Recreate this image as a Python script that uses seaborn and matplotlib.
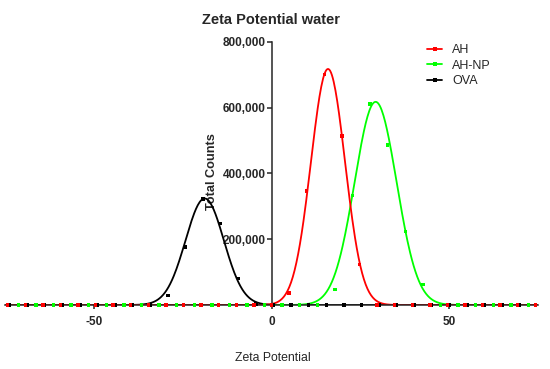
# Zeta potential distributions with Gaussian fits

import numpy as np
import pandas as pd
import seaborn as sns
import matplotlib.pyplot as plt
from matplotlib.lines import Line2D
from matplotlib.ticker import FuncFormatter

# Data

series_names = ["AH", "AH-NP", "OVA"]
series_colors = ["#ff0000", "#00ff00", "#000000"]

zeta_ah = [-74.25, -69.3, -64.35, -59.4, -54.45, -49.5, -44.55, -39.6, -34.65, -29.7,
           -24.75, -19.8, -14.85, -9.9, -4.95, 0.0, 4.95, 9.9, 14.85, 19.8,
           24.75, 29.7, 34.65, 39.6, 44.55, 49.5, 54.45, 59.4, 64.35, 69.3, 74.25]
counts_ah = [0, 0, 0, 0, 0, 0, 0, 0, 0, 0,
             0, 0, 0, 0, 0, 0, 37000, 347000, 702000, 514000,
             124000, 0, 0, 0, 0, 0, 0, 0, 0, 0, 0]

zeta_ahnp = [-71.25, -66.3, -61.35, -56.4, -51.45, -46.5, -41.55, -36.6, -31.65, -26.7,
             -21.75, -16.8, -11.85, -6.9, -1.95, 3.0, 7.95, 12.9, 17.85, 22.8,
             27.75, 32.7, 37.65, 42.6, 47.55, 52.5, 57.45, 62.4, 67.35, 72.3]
counts_ahnp = [0, 0, 0, 0, 0, 0, 0, 0, 0, 0,
               0, 0, 0, 0, 0, 0, 0, 0, 48000, 333000,
               611000, 487000, 223000, 63000, 0, 0, 0, 0, 0, 0]

zeta_ova = [-73.7, -68.75, -63.8, -58.85, -53.9, -48.95, -44.0, -39.05, -34.1, -29.15,
            -24.2, -19.25, -14.3, -9.35, -4.4, 0.55, 5.5, 10.45, 15.4, 20.35,
            25.3, 30.25, 35.2, 40.15, 45.1, 50.05, 55.0, 59.95, 64.9, 69.85]
counts_ova = [0, 0, 0, 0, 0, 0, 0, 0, 0, 28000,
              177000, 322000, 248000, 81000, 3000, 0, 0, 0, 0, 0,
              0, 0, 0, 0, 0, 0, 0, 0, 0, 0]

# Gaussian fit parameters (amplitude, centre, sd)
fit_amp = [718000, 618000, 324000]
fit_mean = [15.9, 29.3, -18.8]
fit_sd = [4.8, 5.9, 5.4]

points = pd.concat([
    pd.DataFrame({"zeta": zeta_ah, "counts": counts_ah, "sample": "AH"}),
    pd.DataFrame({"zeta": zeta_ahnp, "counts": counts_ahnp, "sample": "AH-NP"}),
    pd.DataFrame({"zeta": zeta_ova, "counts": counts_ova, "sample": "OVA"}),
])

grid = np.linspace(-75, 75, 601)
fits = pd.concat([
    pd.DataFrame({"zeta": grid,
                  "counts": a * np.exp(-(grid - m) ** 2 / (2 * s ** 2)),
                  "sample": name})
    for name, a, m, s in zip(series_names, fit_amp, fit_mean, fit_sd)
])

palette = dict(zip(series_names, series_colors))

sns.set_style("ticks")
plt.rcParams["font.family"] = ["Liberation Sans", "DejaVu Sans"]
plt.rcParams["axes.unicode_minus"] = False

fig = plt.figure(figsize=(5.5, 3.69), dpi=100)
ax = fig.add_axes([5 / 550, 1 - 305 / 369, 533 / 550, 263 / 369])

# draw black first, red last (red sits on top along the baseline)
for name in ["OVA", "AH-NP", "AH"]:
    sns.lineplot(data=fits[fits["sample"] == name], x="zeta", y="counts",
                 color=palette[name], lw=1.3, ax=ax, legend=False, zorder=2)
for name in ["OVA", "AH-NP", "AH"]:
    sns.scatterplot(data=points[points["sample"] == name], x="zeta", y="counts",
                    color=palette[name], marker="s", s=6, edgecolor="none",
                    ax=ax, legend=False, zorder=3, clip_on=False)

ax.set_xlim(-75, 75)
ax.set_ylim(0, 800000)
ax.set_xticks([-50, 0, 50])
ax.set_yticks([200000, 400000, 600000, 800000])
ax.yaxis.set_major_formatter(FuncFormatter(lambda v, p: f"{int(v):,}"))

ax.spines["left"].set_position(("data", 0))
ax.spines["right"].set_visible(False)
ax.spines["top"].set_visible(False)
for sp in ["left", "bottom"]:
    ax.spines[sp].set_linewidth(1.1)
ax.tick_params(axis="y", length=3.5, width=1.1, pad=0.5, labelsize=8.5)
ax.tick_params(axis="x", length=3, width=1.1, pad=5, labelsize=8.5)
for lab in ax.get_xticklabels() + ax.get_yticklabels():
    lab.set_fontweight("bold")

ax.set_title("Zeta Potential water", fontsize=10.5, fontweight="bold", pad=13)
ax.set_xlabel("Zeta Potential", fontsize=8.8)
ax.xaxis.set_label_coords(0.503, -0.179)
ax.set_ylabel("Total Counts", fontsize=9.2, fontweight="bold")
ax.yaxis.set_label_coords(0.40, 0.506)

handles = [Line2D([0], [0], color=c, lw=1.3, marker="s", markersize=2.3,
                  markeredgewidth=0) for c in series_colors]
ax.legend(handles, series_names, loc="upper left", frameon=False, fontsize=9,
          bbox_to_anchor=(427 / 550, 1 - 44 / 369), bbox_transform=fig.transFigure,
          borderpad=0, borderaxespad=0, handlelength=1.2, handletextpad=0.8,
          labelspacing=0.3)

fig.savefig("out.png", dpi=100)
